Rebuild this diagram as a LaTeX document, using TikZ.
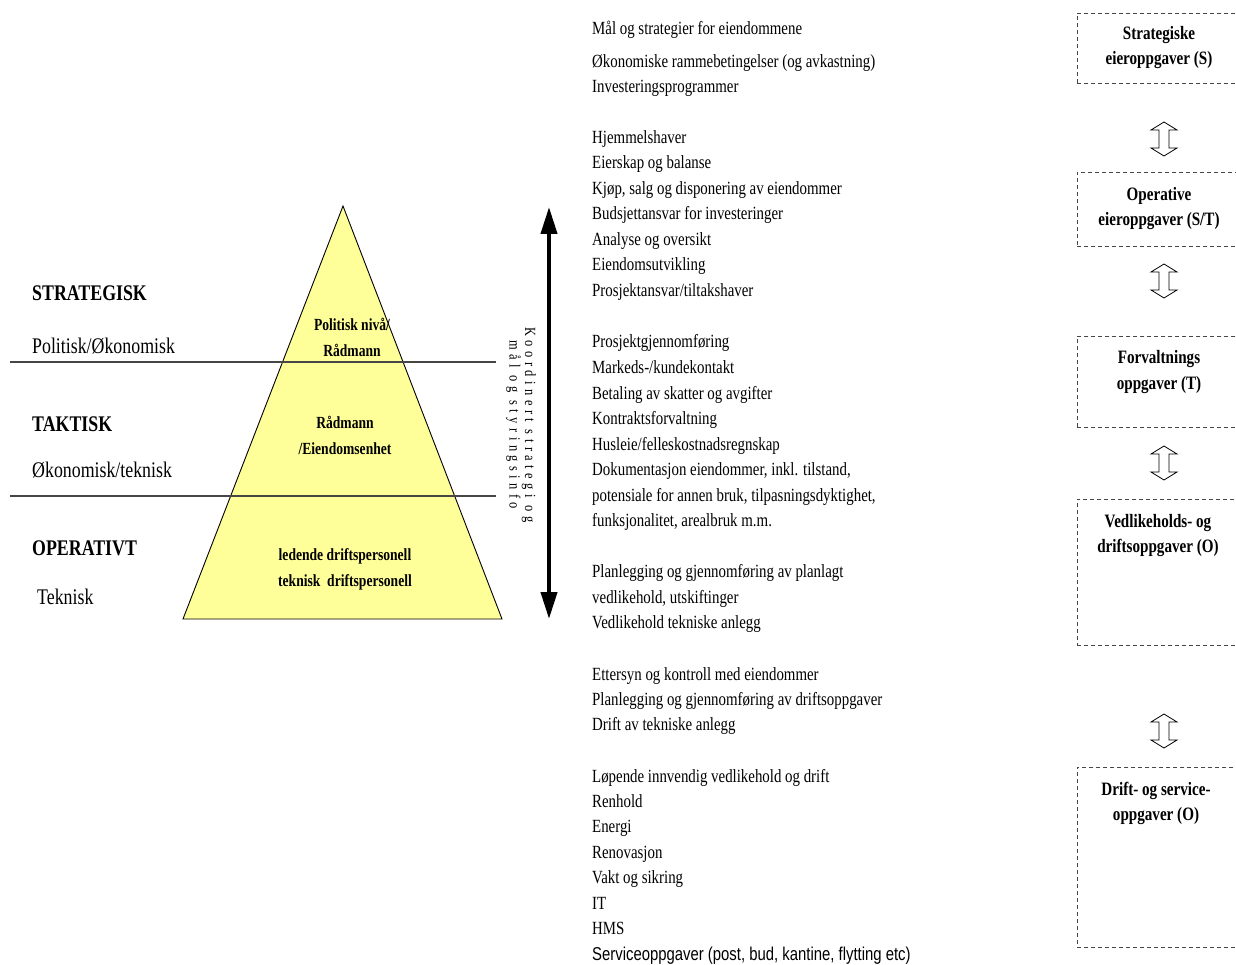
\documentclass[tikz,border=0pt]{standalone}
\usepackage{fontspec}
\setmainfont{Liberation Serif}[FakeStretch=0.8]
\newfontfamily\narrowsans{Liberation Sans}[FakeStretch=0.8]
\usetikzlibrary{arrows.meta}

\definecolor{pyrfill}{RGB}{255,255,153}
\definecolor{rulegray}{RGB}{70,70,70}

\tikzset{
  twoway/.pic={
    \draw[line width=0.8pt, fill=white]
      (0,-17) -- (13,-9) -- (5,-9) -- (5,9) -- (13,9) -- (0,17)
      -- (-13,9) -- (-5,9) -- (-5,-9) -- (-13,-9) -- cycle;
  }
}

\begin{document}
\begin{tikzpicture}[x=1pt,y=-1pt,
  lvl/.style={anchor=west, inner sep=0pt, font=\fontsize{22.3}{25}\selectfont},
  lvlhead/.style={anchor=west, inner sep=0pt, font=\fontsize{22.3}{25}\selectfont\bfseries},
  pyrtxt/.style={align=center, inner sep=0pt, font=\fontsize{17}{26}\selectfont\bfseries},
  item/.style={anchor=base west, inner sep=0pt, font=\fontsize{18.6}{25.5}\selectfont},
  taskbox/.style={draw=rulegray, dash pattern=on 4pt off 3pt, line width=0.9pt,
                  anchor=north west, minimum width=163pt, inner sep=0pt},
  tasktxt/.style={align=center, inner sep=0pt, font=\fontsize{18.9}{25.5}\selectfont\bfseries},
  levelrule/.style={draw=rulegray, line width=1.3pt}
]
\useasboundingbox (0,0) rectangle (1236,965);

% pyramid
\coordinate (apex) at (343,206);
\coordinate (baseL) at (183,619);
\coordinate (baseR) at (502,619);
\draw[fill=pyrfill, line width=0.9pt] (apex) -- (baseR) -- (baseL) -- cycle;

% level rules
\coordinate (r1a) at (10,362);  \coordinate (r1b) at (496,362);
\coordinate (r2a) at (10,496);  \coordinate (r2b) at (496,496);
\draw[levelrule] (r1a) -- (r1b);
\draw[levelrule] (r2a) -- (r2b);

% level labels
\node[lvlhead] (strat) at (32,293) {STRATEGISK};
\node[lvl] (stratsub) at (32,346) {Politisk/Økonomisk};
\node[lvlhead] (takt) at (32,424) {TAKTISK};
\node[lvl] (taktsub) at (32,470) {Økonomisk/teknisk};
\node[lvlhead] (oper) at (32,548) {OPERATIVT};
\node[lvl] (opersub) at (37,597) {Teknisk};

% pyramid texts
\node[pyrtxt] (p1) at (352,337) {Politisk nivå/\\Rådmann};
\node[pyrtxt] (p2) at (345,435) {Rådmann\\/Eiendomsenhet};
\node[pyrtxt] (p3) at (345,569) {ledende driftspersonell\\teknisk\ \ driftspersonell};

% coordination arrow
\coordinate (ktop) at (549,207);
\coordinate (kbot) at (549,619);
\draw[line width=4pt, {Triangle[length=27pt,width=16pt]}-{Triangle[length=27pt,width=16pt]}] (ktop) -- (kbot);
\node[rotate=-90, align=center, inner sep=0pt,
      font=\fontsize{15.5}{13}\selectfont\addfontfeature{LetterSpace=29}] (koord) at (521,425)
  {Koordinert strategi og\\mål og styringsinfo};

% task lists
\foreach \yy/\txt [count=\k] in {
  30/{Mål og strategier for eiendommene},
  63/{Økonomiske rammebetingelser (og avkastning)},
  88/{Investeringsprogrammer},
  139/{Hjemmelshaver},
  164/{Eierskap og balanse},
  190/{Kjøp, salg og disponering av eiendommer},
  215/{Budsjettansvar for investeringer},
  241/{Analyse og oversikt},
  266/{Eiendomsutvikling},
  292/{Prosjektansvar/tiltakshaver},
  343/{Prosjektgjennomføring},
  368/{Markeds-/kundekontakt},
  394/{Betaling av skatter og avgifter},
  419/{Kontraktsforvaltning},
  445/{Husleie/felleskostnadsregnskap},
  470/{Dokumentasjon eiendommer, inkl. tilstand,},
  496/{potensiale for annen bruk, tilpasningsdyktighet,},
  521/{funksjonalitet, arealbruk m.m.},
  572/{Planlegging og gjennomføring av planlagt},
  598/{vedlikehold, utskiftinger},
  623/{Vedlikehold tekniske anlegg},
  675/{Ettersyn og kontroll med eiendommer},
  700/{Planlegging og gjennomføring av driftsoppgaver},
  725/{Drift av tekniske anlegg},
  777/{Løpende innvendig vedlikehold og drift},
  802/{Renhold},
  827/{Energi},
  853/{Renovasjon},
  878/{Vakt og sikring},
  904/{IT},
  929/{HMS}}
  \node[item] (item\k) at (592,\yy+5) {\txt};
\node[item, font=\fontsize{18.6}{25.5}\narrowsans] (itemlast) at (592,960) {Serviceoppgaver (post, bud, kantine, flytting etc)};

% task boxes
\node[taskbox, minimum height=70pt]  (b1) at (1077,13)  {};
\node[taskbox, minimum height=74pt]  (b2) at (1077,172) {};
\node[taskbox, minimum height=91pt]  (b3) at (1077,336) {};
\node[taskbox, minimum height=146pt] (b4) at (1077,499) {};
\node[taskbox, minimum height=180pt] (b5) at (1077,767) {};

\node[tasktxt] (t1) at (1159,47.5)  {Strategiske\\eieroppgaver (S)};
\node[tasktxt] (t2) at (1159,208.5) {Operative\\eieroppgaver (S/T)};
\node[tasktxt] (t3) at (1159,372)   {Forvaltnings\\oppgaver (T)};
\node[tasktxt] (t4) at (1158,535.5) {Vedlikeholds- og\\driftsoppgaver (O)};
\node[tasktxt] (t5) at (1156,803.5) {Drift- og service-\\oppgaver (O)};

% two-way arrows between the task levels
\pic at (1164,139) {twoway};
\pic at (1164,281) {twoway};
\pic at (1164,463) {twoway};
\pic at (1164,731) {twoway};
\end{tikzpicture}
\end{document}
